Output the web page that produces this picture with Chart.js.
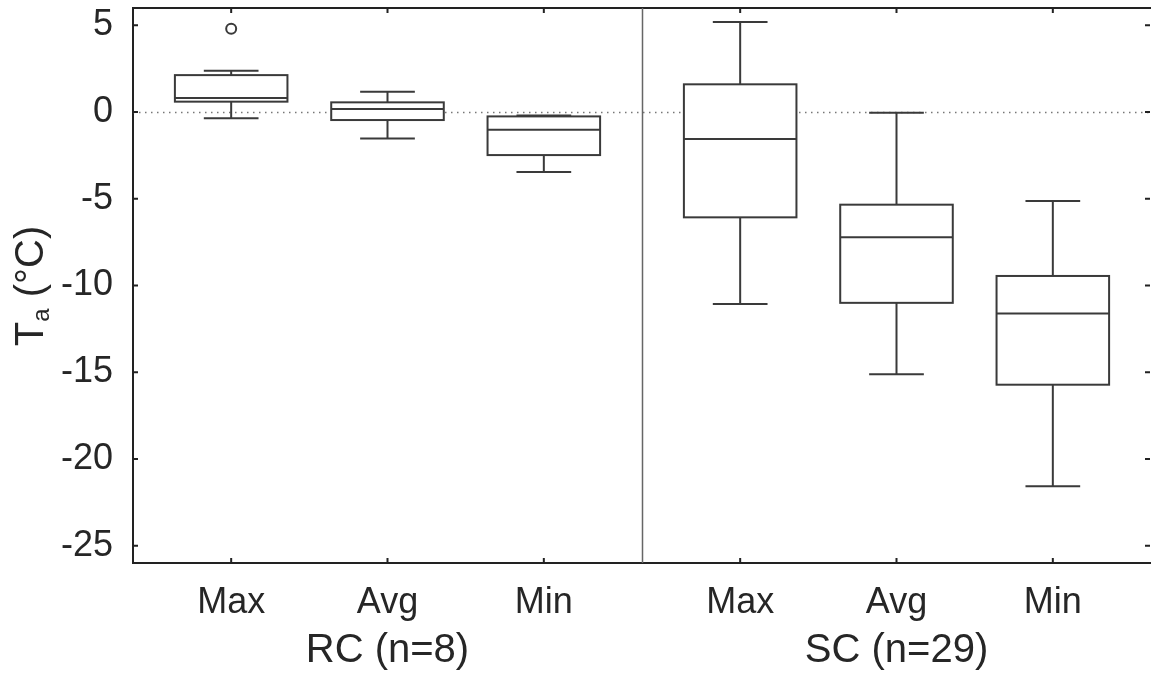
<!DOCTYPE html>
<html>
<head>
<meta charset="utf-8">
<script src="https://cdn.jsdelivr.net/npm/chart.js@4.4.1/dist/chart.umd.min.js"></script>
<style>
  html, body { margin: 0; padding: 0; background: #ffffff; }
  #wrap { width: 1151px; height: 676px; }
</style>
</head>
<body>
<div id="wrap"><canvas id="c" width="1151" height="676"></canvas></div>
<script>
// ---- data ----
const categories = ['Max', 'Avg', 'Min'];
const groups = ['RC (n=8)', 'SC (n=29)'];
const whiskerLow  = [-0.36, -1.52, -3.46, -11.07, -15.12, -21.57];
const q1          = [ 0.60, -0.46, -2.48,  -6.07, -11.00, -15.72];
const median      = [ 0.81,  0.17, -1.02,  -1.56,  -7.22, -11.62];
const q3          = [ 2.13,  0.56, -0.25,   1.60,  -5.34,  -9.45];
const whiskerHigh = [ 2.38,  1.17, -0.20,   5.19,  -0.04,  -5.13];
const outlierIndex = [0];
const outlierValue = [4.8];
const yTicks = [-25, -20, -15, -10, -5, 0, 5];
const yTitle = ['T', 'a', ' (°C)'];

// ---- layout helpers (data units on a linear x axis) ----
const PANEL = 3.256;   // width of one group panel
const MARGIN = 0.628;  // distance from panel edge to first box
const BOX_HALF = 0.36;
const CAP_HALF = 0.175;
function xPos(i) {
  const g = Math.floor(i / categories.length);
  const k = i % categories.length;
  return g * PANEL + MARGIN + k;
}
const nBoxes = groups.length * categories.length;
const xCenters = Array.from({length: nBoxes}, (_, i) => xPos(i));

const LINE = '#3a3a3a';
const TEXT = '#262626';
const FONT = '"Liberation Sans", Arial, sans-serif';

const boxPlugin = {
  id: 'boxes',
  beforeDatasetsDraw(chart) {
    const {ctx, chartArea: a, scales: {x, y}} = chart;
    // dotted zero reference line
    ctx.save();
    ctx.strokeStyle = '#777';
    ctx.lineWidth = 1.5;
    ctx.setLineDash([1.5, 4.5]);
    const y0 = Math.round(y.getPixelForValue(0)) + 0.5;
    ctx.beginPath();
    ctx.moveTo(a.left, y0);
    ctx.lineTo(a.right, y0);
    ctx.stroke();
    ctx.restore();

    ctx.save();
    ctx.strokeStyle = LINE;
    ctx.lineWidth = 2;
    for (let i = 0; i < nBoxes; i++) {
      const cx = x.getPixelForValue(xCenters[i]);
      const bl = x.getPixelForValue(xCenters[i] - BOX_HALF);
      const br = x.getPixelForValue(xCenters[i] + BOX_HALF);
      const cl = x.getPixelForValue(xCenters[i] - CAP_HALF);
      const cr = x.getPixelForValue(xCenters[i] + CAP_HALF);
      const yq1 = y.getPixelForValue(q1[i]);
      const yq3 = y.getPixelForValue(q3[i]);
      const ym = y.getPixelForValue(median[i]);
      const ylo = y.getPixelForValue(whiskerLow[i]);
      const yhi = y.getPixelForValue(whiskerHigh[i]);
      ctx.beginPath();
      ctx.moveTo(cx, yq3); ctx.lineTo(cx, yhi);
      ctx.moveTo(cl, yhi); ctx.lineTo(cr, yhi);
      ctx.moveTo(cx, yq1); ctx.lineTo(cx, ylo);
      ctx.moveTo(cl, ylo); ctx.lineTo(cr, ylo);
      ctx.stroke();
      ctx.fillStyle = '#ffffff';
      ctx.fillRect(bl, yq3, br - bl, yq1 - yq3);
      ctx.strokeRect(bl, yq3, br - bl, yq1 - yq3);
      ctx.beginPath();
      ctx.moveTo(bl, ym); ctx.lineTo(br, ym);
      ctx.stroke();
    }
    ctx.restore();
  },
  afterDraw(chart) {
    const {ctx, chartArea: a, scales: {x, y}} = chart;
    ctx.save();
    // top frame
    ctx.strokeStyle = '#222';
    ctx.lineWidth = 2;
    ctx.beginPath();
    ctx.moveTo(a.left, a.top); ctx.lineTo(a.right, a.top);
    ctx.stroke();
    // panel separator
    ctx.strokeStyle = '#666';
    ctx.lineWidth = 1.5;
    const sx = Math.round(x.getPixelForValue(PANEL)) + 0.5;
    ctx.beginPath();
    ctx.moveTo(sx, a.top); ctx.lineTo(sx, a.bottom);
    ctx.stroke();
    // inward ticks
    ctx.strokeStyle = '#222';
    ctx.lineWidth = 2;
    ctx.beginPath();
    yTicks.forEach(v => {
      const py = y.getPixelForValue(v);
      ctx.moveTo(a.left, py); ctx.lineTo(a.left + 5, py);
      ctx.moveTo(a.right - 1, py); ctx.lineTo(a.right - 6, py);
    });
    xCenters.forEach(v => {
      const px = x.getPixelForValue(v);
      ctx.moveTo(px, a.bottom); ctx.lineTo(px, a.bottom - 5);
      ctx.moveTo(px, a.top); ctx.lineTo(px, a.top + 5);
    });
    ctx.stroke();
    // group labels
    ctx.fillStyle = TEXT;
    ctx.font = '40px ' + FONT;
    ctx.textAlign = 'center';
    ctx.textBaseline = 'alphabetic';
    groups.forEach((g, gi) => {
      const px = x.getPixelForValue(gi * PANEL + PANEL / 2);
      ctx.fillText(g, px, 662);
    });
    // y-axis title with subscript
    ctx.translate(43, 286);
    ctx.rotate(-Math.PI / 2);
    const big = '40px ' + FONT, small = '24px ' + FONT;
    ctx.font = big; const w0 = ctx.measureText(yTitle[0]).width;
    ctx.font = small; const w1 = ctx.measureText(yTitle[1]).width;
    ctx.font = big; const w2 = ctx.measureText(yTitle[2]).width;
    let cur = -(w0 + w1 + w2) / 2;
    ctx.textAlign = 'left';
    ctx.font = big; ctx.fillText(yTitle[0], cur, 0); cur += w0;
    ctx.font = small; ctx.fillText(yTitle[1], cur, 6); cur += w1;
    ctx.font = big; ctx.fillText(yTitle[2], cur, 0);
    ctx.restore();
  }
};

new Chart(document.getElementById('c'), {
  type: 'scatter',
  data: {
    datasets: [{
      label: 'outliers',
      data: outlierIndex.map((idx, j) => ({x: xCenters[idx], y: outlierValue[j]})),
      pointRadius: 5,
      pointHoverRadius: 5,
      borderWidth: 2,
      borderColor: LINE,
      backgroundColor: '#ffffff'
    }]
  },
  options: {
    responsive: false,
    devicePixelRatio: 1,
    animation: false,
    events: [],
    layout: { autoPadding: false, padding: { top: 8, right: 0, left: 0, bottom: 0 } },
    plugins: { legend: { display: false }, tooltip: { enabled: false } },
    scales: {
      x: {
        type: 'linear',
        min: 0,
        max: PANEL * groups.length,
        grid: { display: false, drawTicks: false },
        border: { display: true, color: '#222', width: 2 },
        afterBuildTicks(scale) { scale.ticks = xCenters.map(v => ({value: v})); },
        afterFit(scale) {
          scale.height = 113;
          scale.paddingLeft = 0; scale.paddingRight = 0;
          scale.paddingTop = 0; scale.paddingBottom = 0;
        },
        ticks: {
          autoSkip: false,
          maxRotation: 0,
          padding: 18,
          color: TEXT,
          font: { family: FONT, size: 36 },
          callback(value, index) { return categories[index % categories.length]; }
        }
      },
      y: {
        type: 'linear',
        min: -26,
        max: 6,
        grid: { display: false, drawTicks: false },
        border: { display: true, color: '#222', width: 2 },
        afterBuildTicks(scale) { scale.ticks = yTicks.map(v => ({value: v})); },
        afterFit(scale) {
          scale.width = 133;
          scale.paddingLeft = 0; scale.paddingRight = 0;
          scale.paddingTop = 0; scale.paddingBottom = 0;
        },
        ticks: {
          padding: 20,
          color: TEXT,
          font: { family: FONT, size: 36 }
        }
      }
    }
  },
  plugins: [boxPlugin]
});
</script>
</body>
</html>
